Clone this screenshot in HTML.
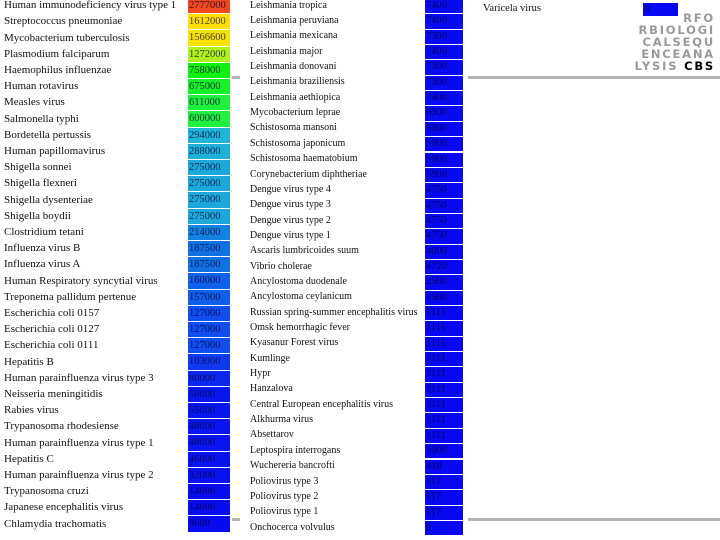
<!DOCTYPE html>
<html><head><meta charset="utf-8"><style>
body{margin:0;width:720px;height:540px;background:#fff;position:relative;overflow:hidden;font-family:"Liberation Serif",serif;}
.t{position:absolute;font-size:11px;color:#111;white-space:nowrap;line-height:12px;}
.c{position:absolute;font-size:10.5px;color:rgba(0,0,50,0.75);line-height:18px;padding-left:1px;box-sizing:border-box;overflow:hidden;}
.g{position:absolute;background:#b3b3b3;height:3px;}
.logo{position:absolute;right:5px;top:12px;font-family:"DejaVu Sans",sans-serif;font-size:11.5px;letter-spacing:1.8px;line-height:12px;color:#999;text-align:right;font-weight:bold;}
</style></head><body>
<div class="g" style="left:468px;top:76px;width:252px"></div>
<div class="g" style="left:468px;top:518px;width:252px"></div>
<div class="g" style="left:232px;top:76px;width:8px"></div>
<div class="g" style="left:232px;top:518px;width:8px"></div>
<div class="logo">RFO<br>RBIOLOGI<br>CALSEQU<br>ENCEANA<br>LYSIS <span style="color:#000">CBS</span></div>
<div id="root"></div>
<script>
const names1=["Human immunodeficiency virus type 1","Streptococcus pneumoniae","Mycobacterium tuberculosis","Plasmodium falciparum","Haemophilus influenzae","Human rotavirus","Measles virus","Salmonella typhi","Bordetella pertussis","Human papillomavirus","Shigella sonnei","Shigella flexneri","Shigella dysenteriae","Shigella boydii","Clostridium tetani","Influenza virus B","Influenza virus A","Human Respiratory syncytial virus","Treponema pallidum pertenue","Escherichia coli 0157","Escherichia coli 0127","Escherichia coli 0111","Hepatitis B","Human parainfluenza virus type 3","Neisseria meningitidis","Rabies virus","Trypanosoma rhodesiense","Human parainfluenza virus type 1","Hepatitis C","Human parainfluenza virus type 2","Trypanosoma cruzi","Japanese encephalitis virus","Chlamydia trachomatis"];
const values1=[2777000,1612000,1566600,1272000,758000,675000,611000,600000,294000,288000,275000,275000,275000,275000,214000,187500,187500,160000,157000,127000,127000,127000,103000,80000,58000,55000,48000,48000,46000,32000,14000,14000,9000];
const names2=["Leishmania tropica","Leishmania peruviana","Leishmania mexicana","Leishmania major","Leishmania donovani","Leishmania braziliensis","Leishmania aethiopica","Mycobacterium leprae","Schistosoma mansoni","Schistosoma japonicum","Schistosoma haematobium","Corynebacterium diphtheriae","Dengue virus type 4","Dengue virus type 3","Dengue virus type 2","Dengue virus type 1","Ascaris lumbricoides suum","Vibrio cholerae","Ancylostoma duodenale","Ancylostoma ceylanicum","Russian spring-summer encephalitis virus","Omsk hemorrhagic fever","Kyasanur Forest virus","Kumlinge","Hypr","Hanzalova","Central European encephalitis virus","Alkhurma virus","Absettarov","Leptospira interrogans","Wuchereria bancrofti","Poliovirus type 3","Poliovirus type 2","Poliovirus type 1","Onchocerca volvulus"];
const values2=[7400,7400,7300,7400,7300,7300,7400,6300,5000,5000,5000,5900,4750,4750,4750,4750,4000,4720,2500,1500,1111,1111,1111,1111,1111,1111,1111,1111,1111,1000,418,117,117,117,0];
const names3=["Varicela virus"];
const values3=[0];
const stops=[[0,[8,8,240]],[60000,[8,24,240]],[130000,[16,80,240]],[200000,[16,120,224]],[300000,[32,184,216]],[600000,[32,240,64]],[760000,[16,240,16]],[1272000,[176,240,32]],[1600000,[255,224,0]],[2777000,[240,72,32]]];
function color(v){for(let i=1;i<stops.length;i++){if(v<=stops[i][0]){const a=stops[i-1],b=stops[i];const t=(v-a[0])/(b[0]-a[0]);return 'rgb('+a[1].map((x,k)=>Math.round(x+(b[1][k]-x)*t)).join(',')+')';}}return 'rgb(240,72,32)';}
const root=document.getElementById('root');
function col(names,values,x0,cx,cw,y0,rh,pfx,fs){
 names.forEach((n,i)=>{
  const y=y0+i*rh;
  const t=document.createElement('div');t.className='t';t.textContent=n;
  t.style.left=x0+'px';t.style.top=(y+rh/2-6)+'px';t.style.fontSize=fs+'px';
  
  
  root.appendChild(t);
  const c=document.createElement('div');c.className='c';c.textContent=values[i];
  c.style.left=cx+'px';c.style.top=(y+1)+'px';c.style.width=cw+'px';c.style.height=(rh-1)+'px';c.style.lineHeight=(rh-1)+'px';
  c.style.background=color(values[i]);
  
  
  root.appendChild(c);
 });
}
col(names1,values1,4,188,42,-3,16.2,'col1',11);
col(names2,values2,250,425,38,-2,15.35,'col2',10);
col(names3,values3,483,643,35,2,14,'col3',10.5);
</script>
</body></html>
